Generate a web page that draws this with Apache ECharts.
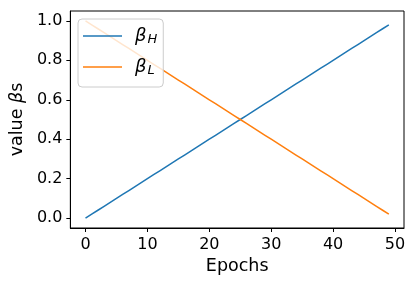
<!DOCTYPE html>
<html><head><meta charset="utf-8">
<script src="https://cdn.jsdelivr.net/npm/echarts@6/dist/echarts.min.js"></script>
<style>html,body{margin:0;padding:0;background:#fff}#c{width:414px;height:282px}</style>
</head><body><div id="c"></div>
<script>
const epochs = [0,1,2,3,4,5,6,7,8,9,10,11,12,13,14,15,16,17,18,19,20,21,22,23,24,25,26,27,28,29,30,31,32,33,34,35,36,37,38,39,40,41,42,43,44,45,46,47,48,49];
const betaH = [0.00,0.02,0.04,0.06,0.08,0.10,0.12,0.14,0.16,0.18,0.20,0.22,0.24,0.26,0.28,0.30,0.32,0.34,0.36,0.38,0.40,0.42,0.44,0.46,0.48,0.50,0.52,0.54,0.56,0.58,0.60,0.62,0.64,0.66,0.68,0.70,0.72,0.74,0.76,0.78,0.80,0.82,0.84,0.86,0.88,0.90,0.92,0.94,0.96,0.98];
const betaL = [1.00,0.98,0.96,0.94,0.92,0.90,0.88,0.86,0.84,0.82,0.80,0.78,0.76,0.74,0.72,0.70,0.68,0.66,0.64,0.62,0.60,0.58,0.56,0.54,0.52,0.50,0.48,0.46,0.44,0.42,0.40,0.38,0.36,0.34,0.32,0.30,0.28,0.26,0.24,0.22,0.20,0.18,0.16,0.14,0.12,0.10,0.08,0.06,0.04,0.02];
const xTicks = [0,10,20,30,40,50];
const yTicks = [0.0,0.2,0.4,0.6,0.8,1.0];
const seriesNames = ['βH','βL'];

const font = 'DejaVu Sans';
const fsTick = 16, fsName = 17.5, fsLeg = 18, fsSub = 13;
const chart = echarts.init(document.getElementById('c'), null, {renderer:'canvas'});
chart.setOption({
  animation:false,
  backgroundColor:'#fff',
  grid:{left:69,top:11,width:335,height:217,show:true,borderColor:'#000',borderWidth:1,backgroundColor:'transparent'},
  legend:{
    orient:'vertical',left:78,top:19,
    icon:'rect',itemWidth:39,itemHeight:1.5,itemGap:11,
    padding:[7,6,10,5],
    backgroundColor:'rgba(255,255,255,0.8)',
    borderColor:'#cccccc',borderWidth:1,borderRadius:4,
    formatter:function(n){return '{b|β}{s|'+n.slice(1)+'}';},
    textStyle:{fontFamily:font,fontSize:fsLeg,color:'#000',lineHeight:20,
      rich:{b:{fontFamily:font,fontStyle:'italic',fontSize:fsLeg,padding:[0,1,0,8],lineHeight:20},
            s:{fontFamily:font,fontStyle:'italic',fontSize:fsSub,verticalAlign:'bottom',padding:[7,0,0,0],lineHeight:20}}},
    data:seriesNames
  },
  xAxis:{type:'value',min:-2.45,max:51.45,
    name:'Epochs',nameLocation:'middle',nameGap:28,
    nameTextStyle:{fontFamily:font,fontSize:fsName,color:'#000'},
    axisLine:{show:true,onZero:false,lineStyle:{color:'#000',width:1}},
    axisTick:{show:true,inside:false,length:4,lineStyle:{color:'#000',width:1},customValues:xTicks},
    axisLabel:{fontFamily:font,fontSize:fsTick,color:'#000',margin:9,customValues:xTicks,formatter:v=>String(v)},
    splitLine:{show:false}},
  yAxis:{type:'value',min:-0.05,max:1.05,
    name:'{a|value }{b|β}{a|s}',nameLocation:'middle',nameGap:44,nameRotate:90,
    nameTextStyle:{fontFamily:font,fontSize:fsName,color:'#000',
      rich:{a:{fontFamily:font,fontSize:fsName,color:'#000'},b:{fontFamily:font,fontSize:fsName,fontStyle:'italic',color:'#000'}}},
    axisLine:{show:true,onZero:false,lineStyle:{color:'#000',width:1}},
    axisTick:{show:true,length:4,lineStyle:{color:'#000',width:1},customValues:yTicks},
    axisLabel:{fontFamily:font,fontSize:fsTick,color:'#000',margin:8,customValues:yTicks,formatter:v=>v.toFixed(1)},
    splitLine:{show:false}},
  series:[
    {name:seriesNames[0],type:'line',data:epochs.map((e,i)=>[e,betaH[i]]),symbol:'none',lineStyle:{color:'#1f77b4',width:1.5},itemStyle:{color:'#1f77b4'}},
    {name:seriesNames[1],type:'line',data:epochs.map((e,i)=>[e,betaL[i]]),symbol:'none',lineStyle:{color:'#ff7f0e',width:1.5},itemStyle:{color:'#ff7f0e'}}
  ]
});
</script></body></html>
